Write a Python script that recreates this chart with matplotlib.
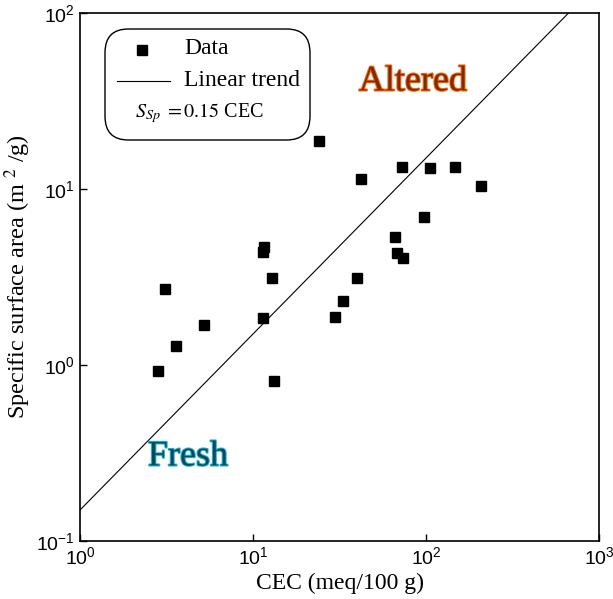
import numpy as np
import matplotlib
matplotlib.use("Agg")
import matplotlib.pyplot as plt
from matplotlib.patches import FancyBboxPatch
import matplotlib.patheffects as pe

plt.rcParams['font.family'] = ['Liberation Sans', 'DejaVu Sans']
plt.rcParams['mathtext.fontset'] = 'stix'
plt.rcParams['axes.unicode_minus'] = False

# Data
cec = [24.2, 42.3, 72.7, 105, 146.5, 208, 97, 66.2, 67.7, 73.3, 39.8, 33.1, 29.8,
       11.5, 11.4, 12.9, 11.4, 3.11, 5.21, 3.59, 2.81, 13.2]
ssa = [18.8, 11.4, 13.4, 13.1, 13.4, 10.4, 6.96, 5.32, 4.31, 4.07, 3.13, 2.31, 1.87,
       4.68, 4.39, 3.11, 1.86, 2.70, 1.69, 1.29, 0.93, 0.81]
slope = 0.15
trend_x = [1, 1000]

fig = plt.figure(figsize=(6.13, 5.99), dpi=100)
ax = fig.add_axes([80/613, 1-541/599, 519/613, 528/599])
ax.set_xscale('log')
ax.set_yscale('log')
ax.set_xlim(1, 1000)
ax.set_ylim(0.1, 100)

tx = np.array(trend_x, dtype=float)
ax.plot(tx, slope*tx, color='black', lw=0.8)
ax.plot(cec, ssa, 's', color='black', ms=7, ls='none')

ax.minorticks_off()
ax.tick_params(which='major', direction='in', length=5, width=1, labelsize=14,
               top=False, right=False, pad=4)
for s in ax.spines.values():
    s.set_linewidth(1.2)

serif = 'Liberation Serif'
ax.set_xlabel('CEC (meq/100 g)', family=serif, fontsize=17, labelpad=3)
ax.set_ylabel('Specific surface area (m $^2$ /g)', family=serif, fontsize=17.5, labelpad=2)

# Legend box
box = FancyBboxPatch(((105-80)/519, (541-140)/528), (310-105)/519, (140-29)/528,
                     boxstyle='round,pad=0,rounding_size=0.045', transform=ax.transAxes,
                     facecolor='white', edgecolor='black', lw=1.0, zorder=5)
ax.add_patch(box)
def ax_xy(px, py):
    return ((px-80)/519, (541-py)/528)
mx, my = ax_xy(142, 50)
ax.plot([mx], [my], 's', color='black', ms=7, transform=ax.transAxes, zorder=6, clip_on=False)
x0, yl = ax_xy(117, 81)
x1, _ = ax_xy(170, 81)
ax.plot([x0, x1], [yl, yl], color='black', lw=0.8, transform=ax.transAxes, zorder=6)
tx0, ty = ax_xy(184, 49)
ax.text(tx0, ty, 'Data', family=serif, fontsize=17, va='center', ha='left', transform=ax.transAxes, zorder=6)
tx0, ty = ax_xy(184, 80)
ax.text(tx0, ty, 'Linear trend', family=serif, fontsize=17, va='center', ha='left', transform=ax.transAxes, zorder=6)
tx0, ty = ax_xy(135, 113)
ax.text(tx0, ty, r'$S_{Sp}\;=0.15$ CEC', family=serif, fontsize=14.5, va='center', ha='left', transform=ax.transAxes, zorder=6)

# Region labels
ax.text((413-80)/519, (541-82)/528, 'Altered', family=serif, fontsize=26, color='#7a2e00',
        ha='center', va='center', transform=ax.transAxes,
        path_effects=[pe.withStroke(linewidth=1.5, foreground='#ff6a1a')])
ax.text((188-80)/519, (541-457)/528, 'Fresh', family=serif, fontsize=26, color='#0a4a5a',
        ha='center', va='center', transform=ax.transAxes,
        path_effects=[pe.withStroke(linewidth=1.5, foreground='#29b6d8')])

fig.savefig('out.png', dpi=100)
